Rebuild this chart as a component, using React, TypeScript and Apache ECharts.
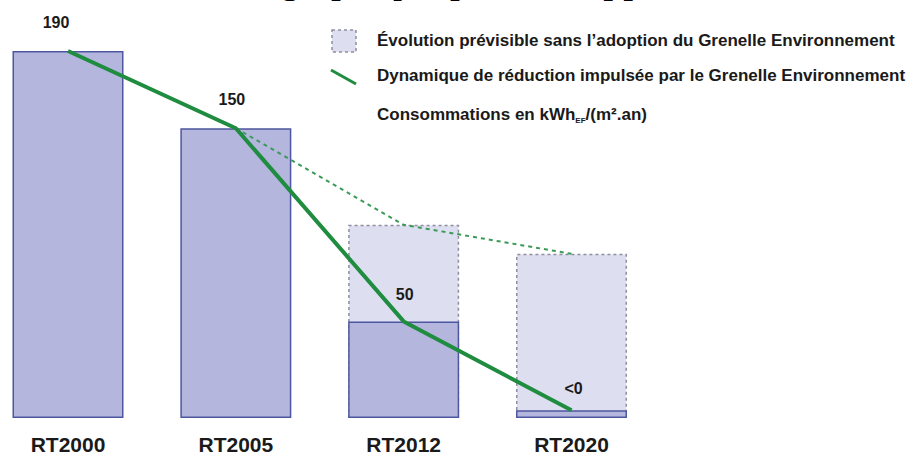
import React, { useEffect, useRef } from 'react';
import * as echarts from 'echarts';

// ---- data ----
const categories = ['RT2000', 'RT2005', 'RT2012', 'RT2020'];
const grenelleValues = [190, 150, 50, 4];
const withoutGrenelleValues: (number | null)[] = [null, null, 100, 85];
const withoutGrenelleTrend: (number | null)[] = [null, 150, 100, 85];
const valueLabels = ['190', '150', '50', '<0'];
const legendLabels = [
  'Évolution prévisible sans l’adoption du Grenelle Environnement',
  'Dynamique de réduction impulsée par le Grenelle Environnement',
];
const unitParts = ['Consommations en kWh', 'EF', '/(m².an)'];
const headerBefore = 'Ceci est illustré dans un';
const headerAfter = 'graphique pour le rapport.';

// ---- styles ----
const labelDistances = [21, 21, 19, 14];
const labelOffsetsX = [-12, -4, 1, 2];
const SANS = '"Liberation Sans", Arial, sans-serif';
const SOLID_FILL = '#b4b6de';
const SOLID_BORDER = '#4d579f';
const GHOST_FILL = '#dddff0';
const GHOST_BORDER = '#8e8e9e';
const GREEN = '#1f8c40';
const GREEN_DASH = '#3a9a58';

export default function App() {
  const ref = useRef<HTMLDivElement>(null);
  useEffect(() => {
    if (!ref.current) return;
    const chart = echarts.init(ref.current, null, { renderer: 'svg' });
    const option: any = {
      animation: false,
      backgroundColor: '#ffffff',
      grid: { left: 68, right: 336.5, top: 51, bottom: 37, containLabel: false },
      xAxis: {
        type: 'category',
        data: categories,
        boundaryGap: false,
        axisLine: { show: false },
        axisTick: { show: false },
        splitLine: { show: false },
        axisLabel: {
          margin: 16,
          fontFamily: SANS,
          fontWeight: 'bold',
          fontSize: 21,
          color: '#1a1a1a',
        },
      },
      yAxis: { type: 'value', min: 0, max: 190, show: false },
      series: [
        {
          type: 'bar',
          name: legendLabels[0],
          data: withoutGrenelleValues,
          barWidth: 111,
          barGap: '-100%',
          clip: false,
          z: 1,
          itemStyle: {
            color: GHOST_FILL,
            borderColor: GHOST_BORDER,
            borderWidth: 1.5,
            borderType: [3, 3],
          },
        },
        {
          type: 'bar',
          name: 'Consommations',
          data: grenelleValues.map((v, i) => ({
            value: v,
            label: {
              show: true,
              position: 'top',
              distance: labelDistances[i],
              offset: [labelOffsetsX[i], 0],
              formatter: valueLabels[i],
              fontFamily: SANS,
              fontWeight: 'bold',
              fontSize: 16,
              color: '#1a1a1a',
            },
          })),
          barWidth: 111,
          barGap: '-100%',
          clip: false,
          z: 2,
          itemStyle: {
            color: SOLID_FILL,
            borderColor: SOLID_BORDER,
            borderWidth: 1.5,
          },
        },
        {
          type: 'line',
          name: 'trend-without',
          data: withoutGrenelleTrend,
          symbol: 'none',
          z: 3,
          lineStyle: { color: GREEN_DASH, width: 2, type: [4, 4] },
        },
        {
          type: 'line',
          name: legendLabels[1],
          data: grenelleValues,
          symbol: 'none',
          z: 4,
          lineStyle: { color: GREEN, width: 4 },
        },
      ],
      graphic: [
        {
          type: 'text',
          x: 270,
          y: -22,
          style: {
            text: headerBefore,
            font: '40px "Liberation Serif", "Times New Roman", serif',
            fill: '#000',
            align: 'right',
            verticalAlign: 'middle',
          },
        },
        {
          type: 'text',
          x: 280,
          y: -22,
          style: {
            text: headerAfter,
            font: '40px "Liberation Serif", "Times New Roman", serif',
            fill: '#000',
            align: 'left',
            verticalAlign: 'middle',
          },
        },
        {
          type: 'rect',
          shape: { x: 332, y: 30, width: 24, height: 22 },
          style: { fill: GHOST_FILL, stroke: GHOST_BORDER, lineWidth: 1.5, lineDash: [3, 3] },
        },
        {
          type: 'line',
          shape: { x1: 331, y1: 70, x2: 356, y2: 84 },
          style: { stroke: GREEN, lineWidth: 3 },
        },
        {
          type: 'text',
          x: 377,
          y: 40,
          style: {
            text: legendLabels[0],
            font: 'bold 17px ' + SANS,
            fill: '#1a1a1a',
            verticalAlign: 'middle',
          },
        },
        {
          type: 'text',
          x: 377,
          y: 75,
          style: {
            text: legendLabels[1],
            font: 'bold 17px ' + SANS,
            fill: '#1a1a1a',
            verticalAlign: 'middle',
          },
        },
        {
          type: 'text',
          x: 377,
          y: 114,
          style: {
            text: `{m|${unitParts[0]}}{s|${unitParts[1]}}{m|${unitParts[2]}}`,
            verticalAlign: 'middle',
            rich: {
              m: { font: 'bold 17px ' + SANS, fill: '#1a1a1a', lineHeight: 20 },
              s: { font: 'bold 8px ' + SANS, fill: '#1a1a1a', lineHeight: 9, padding: [12, 0, 0, 0] },
            },
          },
        },
      ],
    };
    chart.setOption(option);
    return () => chart.dispose();
  }, []);
  return (
    <div
      ref={ref}
      style={{ position: 'absolute', left: 0, top: 0, width: 908, height: 455, background: '#fff' }}
    />
  );
}
